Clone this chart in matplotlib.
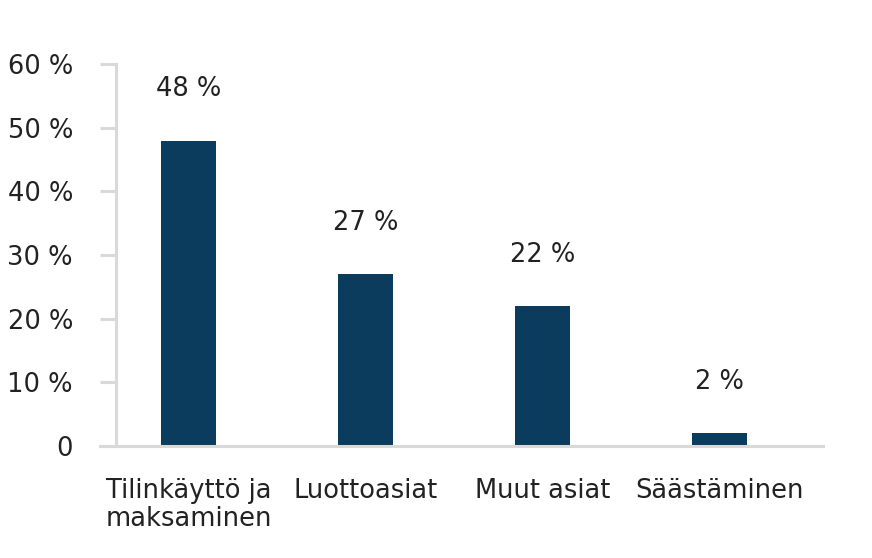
import matplotlib.pyplot as plt

categories = ["Tilinkäyttö ja\nmaksaminen", "Luottoasiat", "Muut asiat", "Säästäminen"]
values = [48, 27, 22, 2]
yticks = [0, 10, 20, 30, 40, 50, 60]
ytick_labels = ["0", "10 %", "20 %", "30 %", "40 %", "50 %", "60 %"]

plt.rcParams['font.family'] = 'DejaVu Sans'
grey = '#d9d9d9'
txt = '#222222'
fs = 18.5

fig = plt.figure(figsize=(8.72, 5.58), dpi=100)
# akseli alkaa x=100 px, pystyakseli hieman sisempänä
ax = fig.add_axes([100 / 872, 0.2007, 723 / 872, 0.6843])
ax.spines['left'].set_position(('data', -0.5 + 16 / 177))

x = range(len(categories))
ax.bar(x, values, width=0.31, color='#0b3c5d')

# arvot pylväiden yläpuolelle
for i, v in zip(x, values):
    ax.annotate(f"{v} %", xy=(i, v), xytext=(0, 37), textcoords='offset points',
                ha='center', va='center', fontsize=fs, color=txt)

ax.set_xlim(-0.5, -0.5 + 723 / 177)
ax.set_ylim(0, 60)
ax.set_yticks(yticks)
ax.set_yticklabels(ytick_labels, fontsize=fs, color=txt)
ax.set_xticks(list(x))
ax.set_xticklabels(categories, fontsize=fs, color=txt, linespacing=1.12)

for s in ['top', 'right']:
    ax.spines[s].set_visible(False)
for s in ['left', 'bottom']:
    ax.spines[s].set_color(grey)
    ax.spines[s].set_linewidth(2.2)

ax.tick_params(axis='y', length=11.5, width=2.2, color=grey, pad=19.5)
ax.tick_params(axis='x', length=0, pad=23)

fig.savefig("out.png", dpi=100)
